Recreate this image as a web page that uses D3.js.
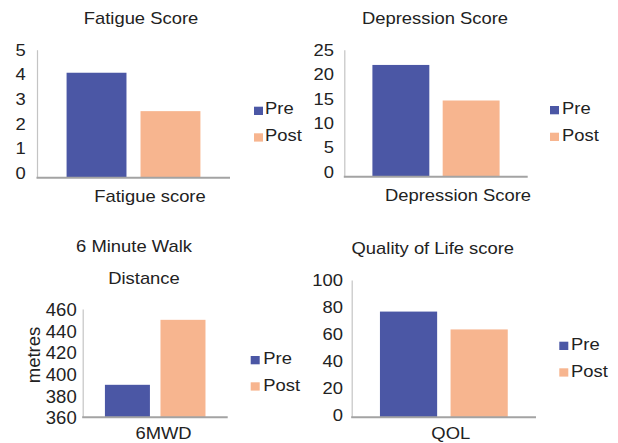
<!DOCTYPE html>
<html>
<head>
<meta charset="utf-8">
<script src="https://cdn.jsdelivr.net/npm/d3@7"></script>
<style>
  html, body { margin: 0; padding: 0; background: #fff; }
  svg { display: block; }
  text { font-family: "Liberation Sans", Arial, Helvetica, sans-serif; fill: #222; }
</style>
</head>
<body>
<svg id="chart" width="618" height="443"></svg>
<script>
// ---------- data ----------
const series = ["Pre", "Post"];
const categories = ["Fatigue score", "Depression Score", "6MWD", "QOL"];
const titles = [["Fatigue Score"], ["Depression Score"], ["6 Minute Walk", "Distance"], ["Quality of Life score"]];
const fatigueValues = [4.1, 2.6];
const depressionValues = [22, 15];
const walkValues = [390, 450];
const qolValues = [77, 64];
const fatigueTicks = [0, 1, 2, 3, 4, 5];
const depressionTicks = [0, 5, 10, 15, 20, 25];
const walkTicks = [360, 380, 400, 420, 440, 460];
const qolTicks = [0, 20, 40, 60, 80, 100];
const yLabels = ["", "", "metres", ""];

// ---------- style / layout ----------
const colors = { Pre: "#4b57a5", Post: "#f7b58f" };
const SX = 1.15; // horizontal text stretch seen in reference

const panels = [
  { values: fatigueValues, ticks: fatigueTicks, domain: [0, 5],
    left: 37, right: 230, top: 49.7, base: 177.7, tickGap: 11.3, tickSize: 16, tickSX: SX, tickShift: 5,
    titlePos: [[141, 24]], xLabelPos: [150, 202],
    legX: 254, legY: [106.7, 133.3], legTextX: 265, legBase: [114.3, 141] },
  { values: depressionValues, ticks: depressionTicks, domain: [0, 25],
    left: 344.3, right: 527.7, top: 49.7, base: 176.7, tickGap: 10.3, tickSize: 16, tickSX: SX, tickShift: 5,
    titlePos: [[435, 24]], xLabelPos: [458, 200.7],
    legX: 550, legY: [106, 132.7], legTextX: 562, legBase: [114.3, 140.7] },
  { values: walkValues, ticks: walkTicks, domain: [360, 460],
    left: 82.7, right: 227.7, top: 309, base: 417.3, tickGap: 6, tickSize: 18.5, tickSX: 1, tickShift: 0,
    titlePos: [[134, 252.3], [144, 284]], xLabelPos: [163.5, 439],
    legX: 250.7, legY: [356, 382.3], legTextX: 263.3, legBase: [364.3, 390.7],
    yLabelPos: [39.5, 355] },
  { values: qolValues, ticks: qolTicks, domain: [0, 100],
    left: 351.7, right: 536, top: 280, base: 417.3, tickGap: 8.7, tickSize: 16, tickSX: SX, tickShift: 2,
    titlePos: [[432.8, 254]], xLabelPos: [450.8, 439],
    legX: 559.3, legY: [341.7, 368.3], legTextX: 571, legBase: [350, 376.7] }
];

const svg = d3.select("#chart");

function label(g, x, y, str, size, anchor, sx) {
  return g.append("text")
    .attr("transform", `translate(${x},${y}) scale(${sx},1)`)
    .attr("text-anchor", anchor)
    .style("font-size", size + "px")
    .text(str);
}

panels.forEach((p, i) => {
  const g = svg.append("g");
  const y = d3.scaleLinear().domain(p.domain).range([p.base, p.top]);
  const x = d3.scaleBand().domain(series).range([p.left, p.right])
    .paddingInner(0.19).paddingOuter(0.4);

  // bars
  g.selectAll("rect.bar").data(series.map((s, k) => ({ s, v: p.values[k] })))
    .join("rect").attr("class", "bar")
    .attr("x", d => x(d.s))
    .attr("width", x.bandwidth())
    .attr("y", d => y(d.v))
    .attr("height", d => y(p.domain[0]) - y(d.v))
    .attr("fill", d => colors[d.s]);

  // y axis
  const axis = d3.axisLeft(y).tickValues(p.ticks).tickFormat(d3.format("d"))
    .tickSize(0).tickPadding(0).tickSizeOuter(0);
  const ag = g.append("g").attr("transform", `translate(${p.left},0)`).call(axis);
  ag.select(".domain").attr("stroke", "#c4c4c4").attr("stroke-width", 1.2);
  ag.selectAll(".tick text")
    .attr("x", null)
    .attr("transform", d => {
      const shift = -p.tickShift * (1 - (d - p.domain[0]) / (p.domain[1] - p.domain[0]));
      return `translate(${-p.tickGap},${shift}) scale(${p.tickSX},1)`;
    })
    .attr("dy", "0.35em")
    .attr("fill", "#222")
    .style("font-size", p.tickSize + "px")
    .style("font-family", '"Liberation Sans", Arial, Helvetica, sans-serif');

  // baseline
  g.append("line")
    .attr("x1", p.left - 0.5).attr("x2", p.right)
    .attr("y1", y(p.domain[0])).attr("y2", y(p.domain[0]))
    .attr("stroke", "#a3a3a3").attr("stroke-width", 2);

  // title
  titles[i].forEach((t, k) => label(g, p.titlePos[k][0], p.titlePos[k][1], t, 16, "middle", SX));

  // x category label
  label(g, p.xLabelPos[0], p.xLabelPos[1], categories[i], 16, "middle", SX);

  // y label
  if (yLabels[i]) {
    g.append("text")
      .attr("transform", `translate(${p.yLabelPos[0]},${p.yLabelPos[1]}) rotate(-90)`)
      .attr("text-anchor", "middle")
      .style("font-size", "18.5px")
      .text(yLabels[i]);
  }

  // legend
  series.forEach((s, k) => {
    g.append("rect")
      .attr("x", p.legX).attr("y", p.legY[k])
      .attr("width", 9).attr("height", 8.3)
      .attr("fill", colors[s]);
    label(g, p.legTextX, p.legBase[k], s, 16, "start", SX);
  });
});
</script>
</body>
</html>
